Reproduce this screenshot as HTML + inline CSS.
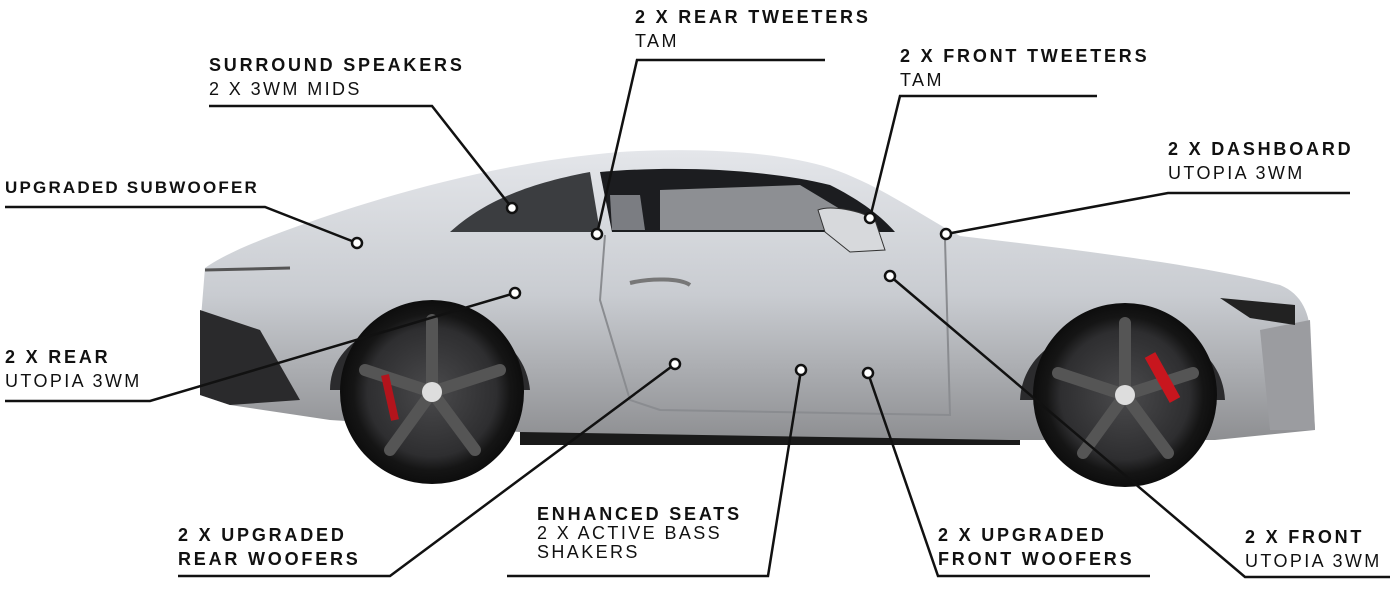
<!DOCTYPE html>
<html><head><meta charset="utf-8"><style>
html,body{margin:0;padding:0;background:#fff;}
body{width:1399px;height:590px;position:relative;overflow:hidden;font-family:"Liberation Sans",sans-serif;}
.t{position:absolute;font-size:18px;letter-spacing:2.4px;color:#111;line-height:24px;white-space:nowrap;}
.b{font-weight:bold;letter-spacing:2.8px;}
svg{position:absolute;left:0;top:0;}
</style></head><body>
<svg width="1399" height="590" viewBox="0 0 1399 590">
<defs>
<linearGradient id="body" x1="0" y1="0" x2="0" y2="1">
<stop offset="0" stop-color="#e4e6ea"/><stop offset="0.5" stop-color="#c9ccd1"/><stop offset="1" stop-color="#8e8f92"/>
</linearGradient>
<radialGradient id="wh" cx="0.5" cy="0.5" r="0.5">
<stop offset="0" stop-color="#4a4a4c"/><stop offset="0.7" stop-color="#2e2e30"/><stop offset="0.85" stop-color="#151515"/><stop offset="1" stop-color="#0d0d0d"/>
</radialGradient>
</defs>
<path d="M520 425 L1020 425 L1020 445 L520 445 Z" fill="#1a1a1a"/>
<path d="M205 268 C230 250 280 232 330 215 C420 185 520 160 620 152 C700 147 780 152 830 168 C880 185 920 215 960 236 C1080 250 1200 265 1280 285 C1305 295 1312 320 1310 345 L1315 430 L1215 440 L1010 440 L520 432 L330 420 L230 405 L200 395 L200 330 Z" fill="url(#body)"/>
<path d="M200 310 L260 330 L300 400 L230 405 L200 395 Z" fill="#2a2a2c"/>
<path d="M1260 330 L1310 320 L1315 430 L1270 430 Z" fill="#9b9ca0"/>
<path d="M450 232 C480 205 520 185 590 172 L600 232 Z" fill="#3b3d40"/>
<path d="M600 172 C680 165 770 170 830 185 C860 200 880 215 895 232 L612 232 Z" fill="#1c1d20"/>
<path d="M610 195 L640 195 L645 230 L612 230 Z" fill="#7b7d82"/>
<path d="M660 190 L800 185 L850 215 L860 230 L660 230 Z" fill="#8d8f93"/>
<path d="M605 235 L600 300 L630 400 L660 410 L950 415 L945 240" fill="none" stroke="#8a8c90" stroke-width="2"/>
<path d="M630 283 C650 278 680 278 690 285" stroke="#777" stroke-width="4" fill="none"/>
<path d="M818 210 C830 205 860 210 875 220 L885 250 L850 252 L825 232 Z" fill="#d7d9dc" stroke="#333" stroke-width="1"/>
<path d="M205 270 L290 268" stroke="#555" stroke-width="3"/>
<path d="M1220 298 L1295 305 L1295 325 L1250 318 Z" fill="#222"/>
<path d="M330 390 C330 300 520 290 530 390 Z" fill="#2b2b2d"/>
<path d="M1020 400 C1025 300 1220 300 1225 400 Z" fill="#2b2b2d"/>
<circle cx="432" cy="392" r="92" fill="url(#wh)"/>
<circle cx="1125" cy="395" r="92" fill="url(#wh)"/>
<g stroke="#555" stroke-width="12" stroke-linecap="round">
<path d="M432 392 L432 320 M432 392 L500 370 M432 392 L475 450 M432 392 L390 450 M432 392 L365 370"/>
<path d="M1125 395 L1125 323 M1125 395 L1193 373 M1125 395 L1168 453 M1125 395 L1083 453 M1125 395 L1058 373"/>
</g>
<path d="M385 375 L395 420" stroke="#b3141c" stroke-width="8"/>
<path d="M1150 355 L1175 400" stroke="#c8161e" stroke-width="12"/>
<circle cx="432" cy="392" r="10" fill="#ddd"/><circle cx="1125" cy="395" r="10" fill="#ddd"/>
<g stroke="#111" stroke-width="2.5" fill="none">
<polyline points="825,60 637,60 597,234"/>
<polyline points="209,106 432,106 512,208"/>
<polyline points="1097,96 900,96 870,218"/>
<polyline points="1350,193 1168,193 946,234"/>
<polyline points="5,207 265,207 357,243"/>
<polyline points="5,401 150,401 515,293"/>
<polyline points="178,576 390,576 675,364"/>
<polyline points="507,576 768,576 801,370"/>
<polyline points="1150,576 938,576 868,373"/>
<polyline points="1390,577 1245,577 890,276"/>
</g>
<g fill="#fff" stroke="#111" stroke-width="2.5">
<circle cx="597" cy="234" r="5"/><circle cx="512" cy="208" r="5"/><circle cx="870" cy="218" r="5"/>
<circle cx="946" cy="234" r="5"/><circle cx="357" cy="243" r="5"/><circle cx="515" cy="293" r="5"/>
<circle cx="675" cy="364" r="5"/><circle cx="801" cy="370" r="5"/><circle cx="868" cy="373" r="5"/>
<circle cx="890" cy="276" r="5"/>
</g>
</svg>
<div class="t" style="left:635px;top:5px"><span class="b">2 X REAR TWEETERS</span><br>TAM</div>
<div class="t" style="left:209px;top:53px"><span class="b">SURROUND SPEAKERS</span><br>2 X 3WM MIDS</div>
<div class="t" style="left:900px;top:44px"><span class="b">2 X FRONT TWEETERS</span><br>TAM</div>
<div class="t" style="left:1168px;top:137px"><span class="b">2 X DASHBOARD</span><br>UTOPIA 3WM</div>
<div class="t b" style="left:5px;top:176px;font-size:17px;letter-spacing:2.2px">UPGRADED SUBWOOFER</div>
<div class="t" style="left:5px;top:345px"><span class="b">2 X REAR</span><br>UTOPIA 3WM</div>
<div class="t b" style="left:178px;top:523px">2 X UPGRADED<br>REAR WOOFERS</div>
<div class="t" style="left:537px;top:505px;line-height:19px"><span class="b">ENHANCED SEATS</span><br>2 X ACTIVE BASS<br>SHAKERS</div>
<div class="t b" style="left:938px;top:523px">2 X UPGRADED<br>FRONT WOOFERS</div>
<div class="t" style="left:1245px;top:525px"><span class="b">2 X FRONT</span><br>UTOPIA 3WM</div>
</body></html>
